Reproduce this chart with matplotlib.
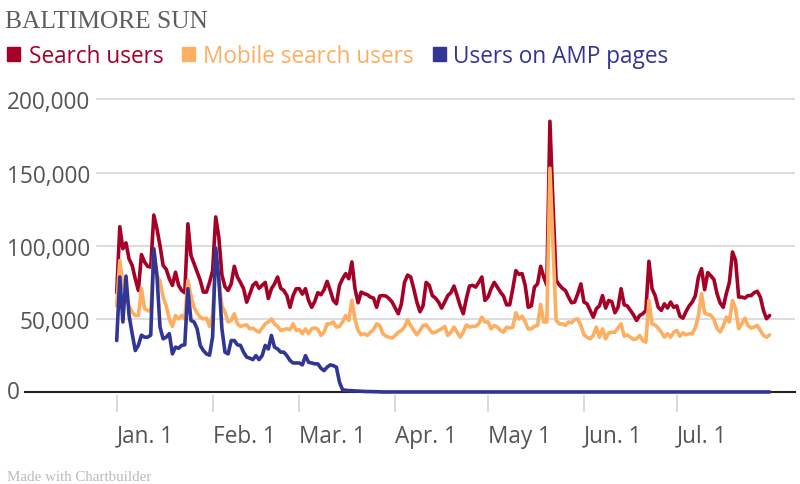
import numpy as np
import pandas as pd
import matplotlib
matplotlib.use("Agg")
import matplotlib.pyplot as plt
from matplotlib.patches import Rectangle
from matplotlib.ticker import FuncFormatter

# Daily values (thousands of users), Jan. 1 - Jul. 31
search_users = [
    68, 113, 98, 102, 91, 86.6, 77.5, 69.5, 94, 89,
    86, 85.5, 121, 111.7, 100, 86.6, 84, 77.5, 73, 82,
    73, 69.5, 68, 115, 93.5, 87.8, 82, 76.4, 68.4, 68.4,
    75, 83, 119.7, 106, 80, 72, 69.5, 74, 86, 78.7,
    75, 70.7, 61.5, 67, 73, 75, 71, 73, 75, 64,
    70.7, 74, 78.7, 71, 69.5, 66, 58, 66, 70.7, 70.7,
    67, 70.7, 62.7, 58, 62, 68, 66.6, 70, 75.7, 69.5,
    62.7, 60.4, 73, 77.5, 81, 77.5, 89, 70.7, 61.1, 68.4,
    67.3, 66.6, 65, 64.3, 58, 65.7, 66, 65.7, 64, 61.6,
    57.5, 53.6, 60.4, 75, 80, 78.7, 70.7, 61.6, 55, 59,
    75, 73, 66, 64.3, 61.6, 57.5, 61.6, 66, 68, 72.5,
    66, 59, 53.6, 64, 72.5, 73, 71.8, 75, 78.7, 62.7,
    65, 70.7, 75, 71.8, 68.4, 65.7, 59.7, 59.7, 70.7, 83,
    80.5, 81, 73, 58, 59, 71.8, 74, 86, 78.7, 73,
    185, 128, 76.4, 73.4, 71, 69.5, 65, 61.1, 61.6, 67.3,
    74, 61.6, 60.4, 55.9, 51.3, 57, 59, 66, 57.5, 62.7,
    61.8, 54.3, 58, 70.7, 59.7, 59, 55.9, 52.9, 49, 52.4,
    53.6, 55.9, 89.4, 70.7, 66, 58, 55.9, 60.4, 57.5, 61.6,
    58, 59, 52, 50.6, 55.2, 59, 61.6, 66, 78.7, 84.4,
    70, 81.7, 79.5, 77, 67.3, 61, 58, 67.3, 75, 95.8,
    90, 65, 65, 64.3, 66, 66, 68, 68.9, 65, 55.9,
    50.2, 52.4,
]

mobile_search_users = [
    59, 90, 73, 66, 59, 54.7, 52.4, 52.4, 71, 57,
    55.9, 55, 95, 80, 75.7, 65, 59, 50, 45, 52.4,
    50, 52.4, 50, 76.4, 66, 58, 54, 51.3, 50, 50.6,
    45, 52.4, 90, 77.5, 59, 54.7, 48, 49, 53.6, 46.7,
    45, 45.6, 46, 43.3, 43.8, 42.2, 41, 43.8, 46.7, 48,
    50, 46.7, 45, 42.2, 42.8, 43.3, 42.8, 46.7, 42.2, 42.8,
    40, 43.3, 40, 43.3, 44, 43, 38.8, 41, 46.7, 46.7,
    48, 44.5, 45, 48, 52.4, 49, 62.7, 50, 42.2, 39.2,
    40, 38.8, 41, 42.8, 46.7, 45.6, 40, 38.3, 37.6, 37,
    38.8, 41, 42.2, 44.5, 49.5, 45.6, 42.2, 39.2, 42.2, 45.6,
    46, 43.3, 40.6, 41, 42.2, 43.3, 45, 38.8, 41, 44.5,
    41, 37.6, 41, 46, 44.5, 45, 45, 46.7, 51.3, 48,
    48, 43.3, 45.6, 44.5, 42.2, 41, 44.5, 43.8, 44.5, 54.3,
    50, 52, 48, 43.3, 43.3, 45, 45.6, 60, 48, 48,
    153, 100, 49, 46.7, 46.7, 45.6, 48, 47.4, 49.7, 50,
    45.6, 39.2, 37.6, 36.5, 38.8, 44.5, 37.6, 43.3, 36.5, 40.5,
    41, 41, 43.8, 46.7, 38.3, 39.2, 37.6, 36, 36.5, 38.8,
    35.3, 34.2, 62.7, 46.7, 46, 43.8, 41, 37.6, 40, 37.6,
    41, 42.2, 38.3, 40.6, 39.2, 40, 40, 44, 52.4, 67.3,
    54, 53.2, 52.6, 49.8, 43.6, 41.2, 45, 51.3, 48, 62.7,
    57, 43.3, 46.7, 50.6, 45.6, 43.8, 44.5, 45.6, 42.2, 38.8,
    37.6, 39.2,
]

amp_users = [
    35.3, 78.7, 48, 79.3, 52.4, 40, 28.5, 32, 39, 37.6,
    37.6, 39, 98, 79.8, 44.5, 36.5, 37.6, 40, 26.2, 30.8,
    30, 32, 32.4, 70.7, 49, 48, 43.3, 32, 28.5, 26.2,
    25.3, 38, 98.5, 77.5, 43.3, 27.4, 26.2, 35.3, 35.3, 32.4,
    32, 27.4, 24, 23.3, 22.3, 25, 22.3, 25, 32, 29.6,
    38.8, 30.8, 29.6, 27.4, 27.4, 25, 21.7, 20, 20, 20,
    18.7, 25, 20.5, 20, 19.4, 19.4, 16.4, 14.8, 17.1, 18.7,
    18.2, 17.1, 6.8, 1.6, 1.4, 1.1, 1.1, 0.9, 0.8, 0.7,
    0.6, 0.5, 0.5, 0.4, 0.4, 0.3,
]
# after mid-March the AMP line sits on the baseline
amp_users = amp_users + [0.2] * (len(search_users) - len(amp_users))

dates = pd.date_range("2017-01-01", periods=len(search_users), freq="D")
tick_dates = pd.to_datetime(["2017-01-01", "2017-02-01", "2017-03-01", "2017-04-01",
                             "2017-05-01", "2017-06-01", "2017-07-01"])
tick_labels = ["Jan. 1", "Feb. 1", "Mar. 1", "Apr. 1", "May 1", "Jun. 1", "Jul. 1"]
y_ticks = [50000, 100000, 150000, 200000]

series_names = ["Search users", "Mobile search users", "Users on AMP pages"]
colors = ["#a50026", "#fdae61", "#313695"]

plt.rcParams["font.family"] = ["Open Sans", "DejaVu Sans"]

fig = plt.figure(figsize=(8, 4.85), dpi=100)
W, H = 800, 485
ax = fig.add_axes([96 / W, 1 - 396.2 / H, 699 / W, 298.8 / H])

for vals, c in zip([search_users, mobile_search_users, amp_users], colors):
    ax.plot(dates, np.array(vals) * 1000, color=c, lw=2.6, zorder=3,
            solid_joinstyle="round", solid_capstyle="round")

ax.set_ylim(-2000, 202000)
start = dates[0]
ax.set_xlim(start - pd.Timedelta(days=6.69), start + pd.Timedelta(days=219.2))

ax.set_yticks(y_ticks)
ax.yaxis.set_major_formatter(FuncFormatter(lambda v, p: f"{int(v):,}"))
ax.tick_params(axis="y", length=0, pad=4.3, labelsize=16.3, labelcolor="#555555")
ax.grid(axis="y", color="#dddddd", lw=1.5, zorder=0)

ax.set_xticks(tick_dates)
ax.set_xticklabels(tick_labels)
ax.tick_params(axis="x", length=12.5, width=1.2, color="#d4d4d4", pad=8,
               labelsize=16.3, labelcolor="#555555")
plt.setp(ax.get_xticklabels(), ha="left")

for s in ax.spines.values():
    s.set_visible(False)

# baseline runs under the y labels
ax.axhline(0, xmin=(25 - 96) / 699, xmax=1, color="#222222", lw=1.5,
           clip_on=False, zorder=2)
fig.text(7 / W, 1 - 393.5 / H, "0", ha="left", va="center",
         fontsize=16.3, color="#555555")

# header
fig.text(5 / W, 1 - 28 / H, "BALTIMORE SUN", ha="left", va="baseline",
         family=["Liberation Serif", "DejaVu Serif"], fontsize=18.3, color="#5e5e5e")

legend_x = [(7, 29), (182, 203), (433, 453)]
for (sx, tx), name, c in zip(legend_x, series_names, colors):
    fig.patches.append(Rectangle((sx / W, 1 - 62 / H), 13 / W, 14 / H,
                                 transform=fig.transFigure, color=c))
    fig.text(tx / W, 1 - 63 / H, name, ha="left", va="baseline",
             fontsize=16.3, color=c)

fig.text(7 / W, 1 - 481 / H, "Made with Chartbuilder", ha="left", va="baseline",
         family=["Liberation Serif", "DejaVu Serif"], fontsize=10.8, color="#bbbbbb")

fig.savefig("out.png", dpi=100)
